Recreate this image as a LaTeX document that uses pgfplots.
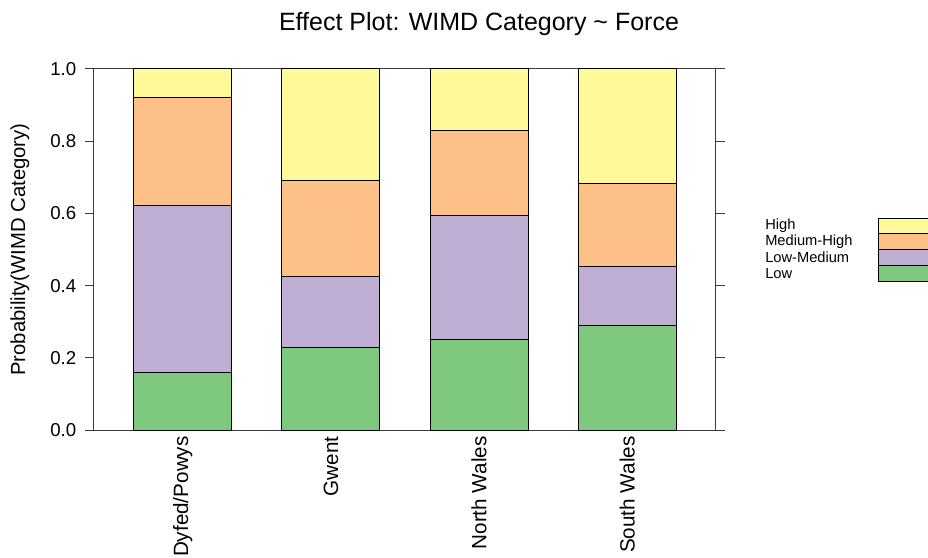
\documentclass[border=0pt]{standalone}
\usepackage{fontspec}
\setmainfont{Liberation Sans}
\usepackage{pgfplots}
\pgfplotsset{compat=1.18}

\definecolor{cLow}{HTML}{7FC97F}
\definecolor{cLowMed}{HTML}{BEAED4}
\definecolor{cMedHigh}{HTML}{FDC086}
\definecolor{cHigh}{HTML}{FFFA99}
\definecolor{frame}{HTML}{3A3A3A}

\begin{document}
\begin{tikzpicture}[x=0.75pt,y=0.75pt]
\clip (-94,-127) rectangle (834,430);
\begin{axis}[
  at={(0,0)}, anchor=south west,
  scale only axis,
  width=466.5pt, height=270.75pt,
  xmin=-0.6, xmax=3.6,
  ymin=0, ymax=1,
  ybar stacked,
  bar width=73.5pt,
  bar shift=0pt,
  axis line style={frame, line width=0.75pt},
  xtick={0,1,2,3},
  xticklabels={Dyfed/Powys, Gwent, North Wales, South Wales},
  xtick style={draw=none},
  xticklabel style={rotate=90, anchor=east, font=\fontsize{15.5}{17}\selectfont, xshift=5.5pt},
  ytick={0,0.2,0.4,0.6,0.8,1.0},
  ytick pos=both,
  yticklabel pos=left,
  tick align=outside,
  major tick length=6.75pt,
  ytick style={frame, line width=0.75pt},
  yticklabel style={font=\fontsize{14}{16}\selectfont, xshift=-3pt,
    /pgf/number format/fixed, /pgf/number format/fixed zerofill,
    /pgf/number format/precision=1,
    /pgf/number format/assume math mode=true},
  ylabel={Probability(WIMD Category)},
  ylabel style={at={(axis description cs:0,0.5)}, anchor=center,
    yshift=55.5pt, font=\fontsize{15.2}{17}\selectfont},
  title={Effect Plot: WIMD Category \textasciitilde\ Force},
  title style={at={(axis description cs:0.619,1)}, anchor=center,
    yshift=28pt, font=\fontsize{18.75}{20}\selectfont},
  every axis plot/.append style={draw=black, line width=0.75pt},
]
% Low
\addplot[fill=cLow] coordinates {(0,0.158) (1,0.229) (2,0.252) (3,0.289)};
% Low-Medium
\addplot[fill=cLowMed] coordinates {(0,0.465) (1,0.196) (2,0.342) (3,0.164)};
% Medium-High
\addplot[fill=cMedHigh] coordinates {(0,0.298) (1,0.266) (2,0.235) (3,0.230)};
% High
\addplot[fill=cHigh] coordinates {(0,0.079) (1,0.309) (2,0.171) (3,0.317)};
\end{axis}

% key
\begin{scope}[draw=black, line width=0.75pt]
  \filldraw[fill=cHigh]    (784,196) rectangle (850,211);
  \filldraw[fill=cMedHigh] (784,180) rectangle (850,196);
  \filldraw[fill=cLowMed]  (784,164) rectangle (850,180);
  \filldraw[fill=cLow]     (784,148) rectangle (850,164);
\end{scope}
\begin{scope}[every node/.style={anchor=west, inner sep=0pt, font=\fontsize{11}{12}\selectfont}]
  \node at (671,204) {High};
  \node at (671,188.5) {Medium-High};
  \node at (671,172.5) {Low-Medium};
  \node at (671,156.5) {Low};
\end{scope}
\end{tikzpicture}
\end{document}
